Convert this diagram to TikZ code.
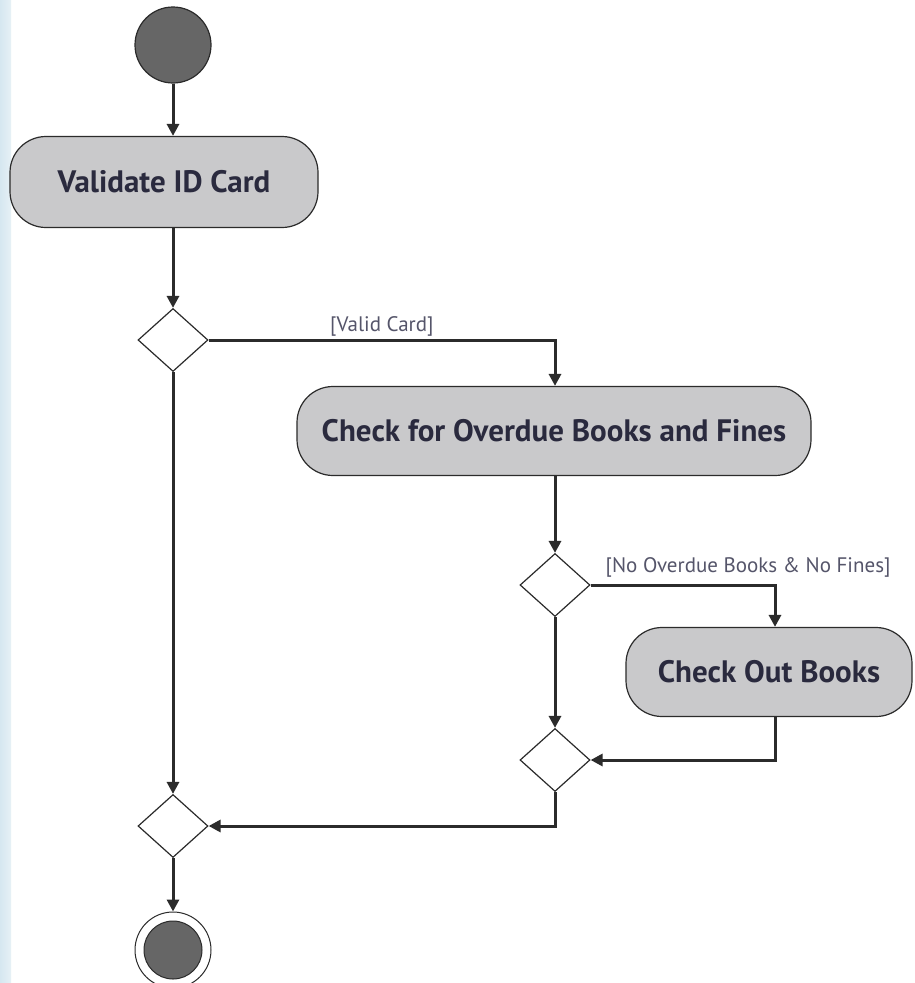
\documentclass[tikz,border=0pt]{standalone}
\usepackage{fontspec}
\setmainfont{PT Sans}
\usetikzlibrary{shapes.geometric,arrows.meta}
\definecolor{actfill}{HTML}{C9C9CB}
\definecolor{dotfill}{HTML}{666666}
\definecolor{edgecol}{HTML}{2B2B2B}
\definecolor{txtcol}{HTML}{2A2A3E}
\definecolor{lblcol}{HTML}{55556A}
\definecolor{sidebar}{HTML}{D6E7F0}
\begin{document}
\begin{tikzpicture}[x=1pt,y=-1pt,
  action/.style={draw=edgecol,line width=1.2pt,fill=actfill,rectangle,rounded corners=36pt,
    font=\fontsize{31}{34}\selectfont\bfseries,text=txtcol,inner sep=0pt},
  decision/.style={draw=edgecol,line width=1.2pt,fill=white,diamond,minimum width=70pt,minimum height=63pt,inner sep=0pt},
  flow/.style={draw=edgecol,line width=3pt,-{Triangle[length=12pt,width=12pt]}},
  guard/.style={font=\fontsize{21}{24}\selectfont,text=lblcol,inner sep=2pt}]
\useasboundingbox (0,0) rectangle (914,983);
\fill[white] (0,0) rectangle (914,983);
\shade[left color=sidebar,right color=sidebar!60!white] (0,0) rectangle (11,983);
\node[circle,draw=edgecol,line width=1.2pt,fill=dotfill,minimum size=76pt,inner sep=0pt] (start) at (173,45) {};
\node[action,minimum width=308pt,minimum height=91pt] (validate) at (164,182) {Validate ID Card};
\node[decision] (d1) at (173,340) {};
\node[action,minimum width=514pt,minimum height=89pt] (check) at (554,431) {Check for Overdue Books and Fines};
\node[decision] (d2) at (555,585) {};
\node[action,minimum width=286pt,minimum height=89pt] (out) at (769,672) {Check Out Books};
\node[decision] (d3) at (555,760) {};
\node[decision] (d4) at (173,826) {};
\node[circle,draw=edgecol,line width=1pt,fill=white,minimum size=76pt,inner sep=0pt] (end) at (173,950) {};
\node[circle,draw=edgecol,line width=1pt,fill=dotfill,minimum size=58pt,inner sep=0pt] (endin) at (173,950) {};

\draw[flow] (start) -- (validate.north -| start);
\draw[flow] (validate.south -| d1) -- (d1.north);
\draw[flow] (d1.east) -| (check.north -| d2) node[guard,pos=0.25,above] {[Valid Card]};
\draw[flow] (check.south -| d2) -- (d2.north);
\draw[flow] (d2.east) -| (out.north -| 775,0) node[guard,pos=0.427,above=4pt] {[No Overdue Books \& No Fines]};
\draw[flow] (d2.south) -- (d3.north);
\draw[flow] (out.south -| 775,0) |- (d3.east);
\draw[flow] (d3.south) |- (d4.east);
\draw[flow] (d1.south) -- (d4.north);
\draw[flow] (d4.south) -- (end.north);
\end{tikzpicture}
\end{document}
